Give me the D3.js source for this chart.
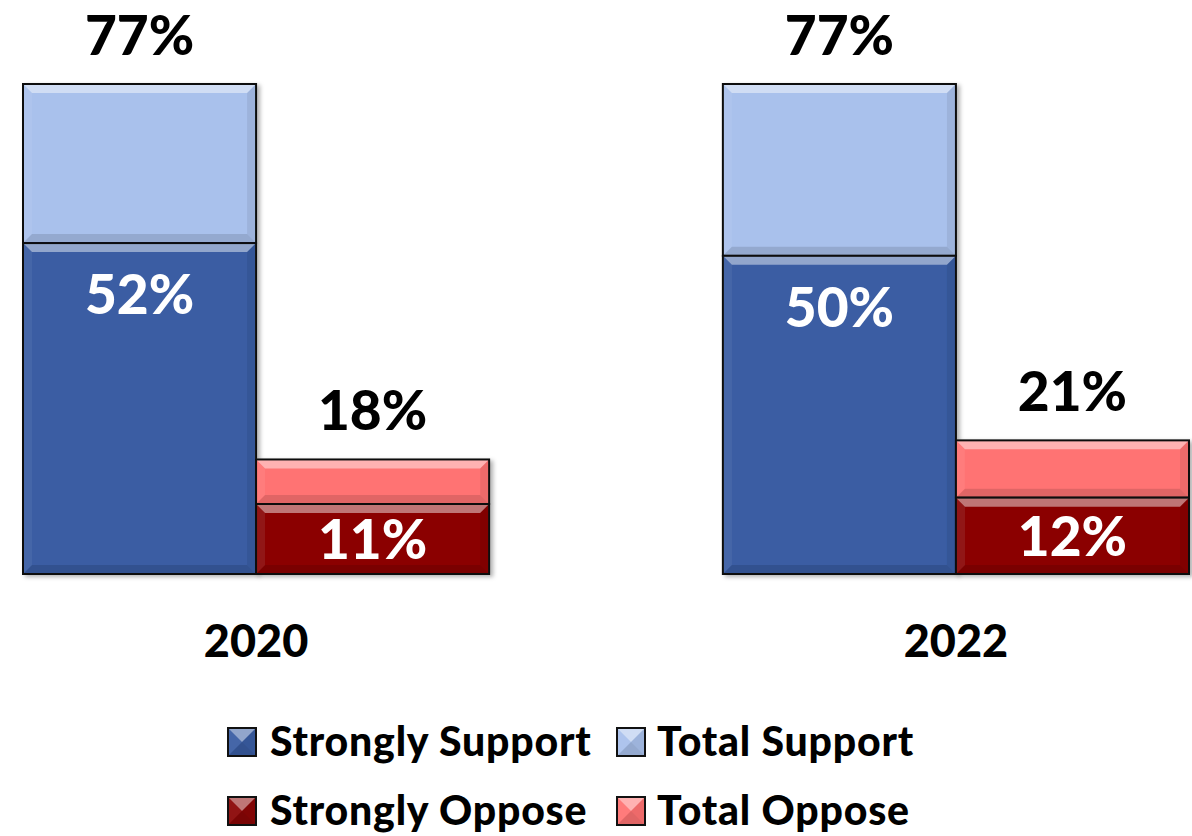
<!DOCTYPE html>
<html>
<head>
<meta charset="utf-8">
<script src="https://cdn.jsdelivr.net/npm/d3@7"></script>
<style>
  body { margin: 0; background: #fff; }
  text { font-family: Lato, "Open Sans", sans-serif; font-weight: 900; }
</style>
</head>
<body>
<div id="chart"></div>
<script>

var years = ["2020", "2022"];
var strongSupport = [52, 50];
var totalSupport = [77, 77];
var strongOppose = [11, 12];
var totalOppose = [18, 21];
var legendLabels = ["Strongly Support", "Total Support", "Strongly Oppose", "Total Oppose"];

var colors = {
  strongSupport: "#3a5da3",
  totalSupport: "#a9c1ec",
  strongOppose: "#8b0606",
  totalOppose: "#ff7373"
};

var svgWidth = 1192;
var svgHeight = 836;

var svg = d3.select("#chart")
  .append("svg")
  .attr("width", svgWidth)
  .attr("height", svgHeight);

var defs = svg.append("defs");
var shadow = defs.append("filter").attr("id", "shadow")
  .attr("x", "-5%").attr("y", "-5%").attr("width", "115%").attr("height", "115%");
shadow.append("feDropShadow")
  .attr("dx", 3).attr("dy", 2).attr("stdDeviation", 2)
  .attr("flood-color", "#000").attr("flood-opacity", 0.3);

// groups of bars
var x0 = d3.scaleBand()
  .domain(years)
  .range([23, 1189])
  .paddingInner(0.334)
  .paddingOuter(0);

var x1 = d3.scaleBand()
  .domain(["support", "oppose"])
  .range([0, x0.bandwidth()]);

var y = d3.scaleLinear()
  .domain([0, d3.max(totalSupport.concat(totalOppose))])
  .range([574, 84]);

var bars = [];
years.forEach(function(yr, i) {
  bars.push({ year: yr, side: "support", total: totalSupport[i], strong: strongSupport[i] });
  bars.push({ year: yr, side: "oppose", total: totalOppose[i], strong: strongOppose[i] });
});

var chartGroup = svg.append("g");

// draws a rect with an office style bevel
function bevelRect(g, x, yTop, w, h, fill, b) {
  g.append("rect")
    .attr("x", x).attr("y", yTop).attr("width", w).attr("height", h)
    .attr("fill", fill);
  var pts = {
    top: [[x, yTop], [x + w, yTop], [x + w - b, yTop + b], [x + b, yTop + b]],
    left: [[x, yTop], [x + b, yTop + b], [x + b, yTop + h - b], [x, yTop + h]],
    right: [[x + w, yTop], [x + w, yTop + h], [x + w - b, yTop + h - b], [x + w - b, yTop + b]],
    bottom: [[x, yTop + h], [x + b, yTop + h - b], [x + w - b, yTop + h - b], [x + w, yTop + h]]
  };
  var shades = { top: ["#fff", 0.45], left: ["#fff", 0.06], right: ["#000", 0.07], bottom: ["#000", 0.12] };
  Object.keys(pts).forEach(function(k) {
    g.append("polygon")
      .attr("points", pts[k].map(function(p) { return p.join(","); }).join(" "))
      .attr("fill", shades[k][0])
      .attr("fill-opacity", shades[k][1]);
  });
  g.append("rect")
    .attr("x", x).attr("y", yTop).attr("width", w).attr("height", h)
    .attr("fill", "none")
    .attr("stroke", "#111")
    .attr("stroke-width", 2);
}

bars.forEach(function(d) {
  var bx = x0(d.year) + x1(d.side);
  var bw = x1.bandwidth();
  var g = chartGroup.append("g").attr("filter", "url(#shadow)");
  var totalColor = d.side == "support" ? colors.totalSupport : colors.totalOppose;
  var strongColor = d.side == "support" ? colors.strongSupport : colors.strongOppose;

  bevelRect(g, bx, y(d.total), bw, y(d.strong) - y(d.total), totalColor, 9);
  bevelRect(g, bx, y(d.strong), bw, y(0) - y(d.strong), strongColor, 9);

  // total label above the bar
  chartGroup.append("text")
    .attr("x", bx + bw / 2)
    .attr("y", y(d.total) - 29)
    .attr("text-anchor", "middle")
    .attr("font-size", "55px")
    .attr("fill", "#000")
    .text(d.total + "%");

  // strong label inside the bar
  var top = y(d.strong);
  var mid = Math.min(top + 51, (top + y(0)) / 2);
  chartGroup.append("text")
    .attr("x", bx + bw / 2)
    .attr("y", mid + 20)
    .attr("text-anchor", "middle")
    .attr("font-size", "55px")
    .attr("fill", "#fff")
    .text(d.strong + "%");
});

// year labels
chartGroup.selectAll(".year")
  .data(years)
  .enter()
  .append("text")
  .attr("class", "year")
  .attr("x", d => x0(d) + x0.bandwidth() / 2)
  .attr("y", 657)
  .attr("text-anchor", "middle")
  .attr("font-size", "45px")
  .text(d => d);

// legend
var legendColors = [colors.strongSupport, colors.totalSupport, colors.strongOppose, colors.totalOppose];
var legendX = [228, 617];
var textX = [270, 657];
var legendY = [728, 797];

legendLabels.forEach(function(lbl, i) {
  var col = i % 2;
  var ly = legendY[Math.floor(i / 2)];
  var g = svg.append("g");
  bevelRect(g, legendX[col], ly, 28, 28, legendColors[i], 14);
  svg.append("text")
    .attr("x", textX[col])
    .attr("y", ly + 28)
    .attr("font-size", "41px")
    .attr("letter-spacing", "0.8px")
    .text(lbl);
});

</script>
</body>
</html>
